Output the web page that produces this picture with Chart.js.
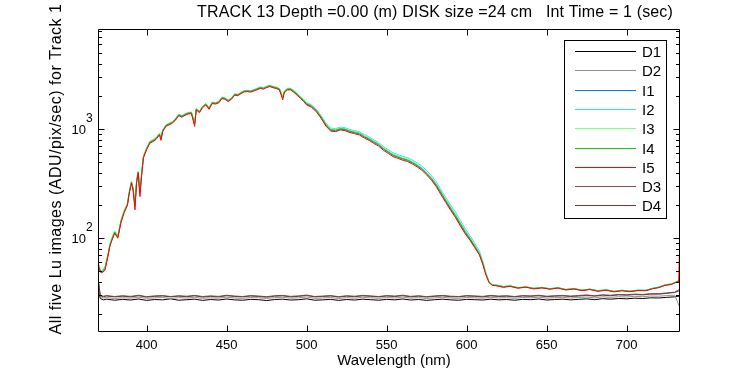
<!DOCTYPE html>
<html>
<head>
<meta charset="utf-8">
<title>TRACK 13 Lu spectra</title>
<script src="https://cdn.jsdelivr.net/npm/chart.js@4.4.1/dist/chart.umd.min.js"></script>
<style>
  html, body { margin: 0; padding: 0; background: #fff; }
  #wrap { width: 750px; height: 375px; }
</style>
</head>
<body>
<div id="wrap"><canvas id="spectra" width="750" height="375"></canvas></div>
<script>
// wavelengths (nm) of the five Lu image curves
const wl = [
  370, 371, 372, 374, 376, 377, 378, 380, 382, 384,
  386, 388, 389, 390.5, 391.5, 392.7, 393.7, 394.7, 395.8, 396.9,
  398, 400, 402, 404, 406, 408, 409, 410, 412, 414,
  416, 418, 420, 422, 424, 426, 428, 430, 431, 433,
  435, 437, 439, 441, 443, 445, 447, 449, 451, 453,
  455, 457, 459, 461, 463, 465, 467, 469, 471, 473,
  475, 477, 479, 481, 483, 485, 486, 488, 490, 492,
  494, 496, 498, 500, 503, 506, 509, 512, 515, 518,
  521, 524, 527, 530, 533, 536, 539, 542, 545, 548,
  551, 554, 557, 560, 563, 566, 569, 572, 575, 578,
  581, 584, 587, 590, 593, 596, 599, 602, 605, 608,
  610, 612, 614, 616, 619, 623, 627, 632, 637, 642,
  647, 652, 657, 662, 667, 672, 677, 682, 687, 692,
  697, 702, 707, 712, 716, 720, 724, 728, 731, 732.5,
  733
];

const i1 = [
  56, 50, 49, 53, 72, 86, 95, 113, 103, 143,
  176, 205, 255, 326, 285, 200, 328, 402, 262, 390,
  555, 660, 755, 782, 822, 898, 830, 962, 1075, 1110,
  1148, 1228, 1348, 1310, 1358, 1400, 1410, 1120, 1520, 1442,
  1600, 1692, 1560, 1745, 1722, 1765, 1935, 1905, 1820, 1905,
  2075, 2060, 2148, 2228, 2240, 2220, 2270, 2330, 2400, 2365,
  2440, 2490, 2432, 2395, 2325, 1950, 2190, 2330, 2320, 2210,
  2080, 1950, 1830, 1700, 1618, 1478, 1285, 1092, 980, 968,
  1002, 990, 950, 928, 905, 850, 808, 758, 716, 656,
  615, 574, 553, 533, 517, 492, 463, 431, 390, 349,
  305, 257, 218, 185, 159, 134, 113, 98, 83.5, 71,
  59, 47, 39.5, 37.3, 36.8, 35.8, 36.4, 35, 35.7, 34.5,
  35.2, 34.3, 35, 33.7, 34.4, 33.2, 34, 32.8, 33.5, 32.4,
  33.2, 32.5, 33.3, 33.1, 34.6, 35.4, 37.2, 37.9, 39.6, 40.5,
  42
];

const i2 = [
  57, 51, 50, 54, 73, 87, 97, 115, 105, 146,
  178, 207, 258, 330, 290, 205, 332, 408, 268, 396,
  563, 670, 768, 795, 835, 912, 845, 978, 1090, 1128,
  1165, 1245, 1368, 1330, 1380, 1420, 1432, 1140, 1545, 1465,
  1625, 1718, 1585, 1772, 1750, 1792, 1965, 1935, 1848, 1935,
  2105, 2090, 2180, 2260, 2272, 2252, 2302, 2362, 2432, 2398,
  2470, 2520, 2465, 2430, 2365, 1990, 2235, 2375, 2372, 2265,
  2135, 2005, 1885, 1755, 1672, 1530, 1335, 1140, 1025, 1012,
  1045, 1032, 992, 970, 948, 892, 850, 798, 755, 692,
  650, 607, 585, 565, 548, 522, 492, 459, 417, 374,
  328, 278, 236, 201, 173, 146, 123, 106, 90, 76,
  62, 48.5, 40, 37.8, 37, 36.2, 36.6, 35.3, 35.9, 34.8,
  35.4, 34.6, 35.2, 34, 34.6, 33.5, 34.2, 33, 33.7, 32.7,
  33.4, 32.8, 33.5, 33.4, 34.8, 35.7, 37.5, 38.2, 40, 41,
  43
];

const i3 = [
  58, 52, 50, 55, 74, 89, 99, 117, 107, 148,
  181, 210, 262, 335, 295, 210, 338, 414, 272, 402,
  570, 678, 777, 803, 843, 920, 852, 985, 1098, 1135,
  1172, 1252, 1375, 1335, 1385, 1425, 1435, 1150, 1548, 1468,
  1628, 1720, 1590, 1775, 1752, 1795, 1968, 1938, 1852, 1938,
  2108, 2092, 2182, 2262, 2275, 2255, 2305, 2365, 2435, 2400,
  2472, 2522, 2466, 2428, 2362, 1985, 2228, 2365, 2360, 2250,
  2120, 1990, 1868, 1738, 1655, 1512, 1318, 1122, 1005, 995,
  1028, 1015, 975, 952, 930, 875, 832, 780, 738, 676,
  634, 592, 570, 550, 533, 507, 478, 445, 403, 361,
  316, 268, 227, 193, 166, 140, 118, 102, 87, 73,
  60, 47.5, 39.7, 37.5, 37.2, 36, 36.8, 35.1, 35.8, 34.9,
  35.5, 34.4, 35.3, 33.9, 34.7, 33.4, 34.1, 33.1, 33.6, 32.6,
  33.3, 32.7, 33.4, 33.3, 34.7, 35.6, 37.3, 38.1, 39.8, 40.8,
  42.5
];

const i4 = [
  57, 50, 49, 53, 72, 86, 96, 114, 103, 144,
  177, 206, 256, 328, 286, 196, 330, 405, 258, 392,
  560, 668, 765, 790, 830, 905, 825, 972, 1085, 1120,
  1158, 1238, 1360, 1320, 1370, 1410, 1420, 1110, 1532, 1452,
  1612, 1705, 1565, 1758, 1735, 1778, 1950, 1920, 1832, 1920,
  2090, 2072, 2162, 2244, 2255, 2236, 2286, 2346, 2416, 2380,
  2455, 2505, 2448, 2410, 2340, 1940, 2205, 2345, 2340, 2230,
  2100, 1968, 1846, 1716, 1634, 1492, 1298, 1104, 990, 978,
  1012, 1000, 960, 938, 915, 860, 818, 767, 725, 664,
  622, 580, 559, 539, 523, 497, 468, 436, 395, 354,
  310, 262, 222, 189, 162, 137, 116, 100, 85, 72,
  59.5, 47, 39.4, 37.2, 37, 35.9, 36.5, 35.2, 35.6, 34.6,
  35.3, 34.2, 35.1, 33.8, 34.5, 33.3, 34.1, 32.9, 33.6, 32.5,
  33.1, 32.6, 33.2, 33.2, 34.5, 35.5, 37.1, 38, 39.7, 40.6,
  42
];

const i5 = [
  55, 49, 48, 51, 70, 84, 93, 111, 100, 140,
  172, 200, 250, 320, 277, 182, 320, 395, 241, 380,
  545, 650, 745, 770, 810, 885, 790, 950, 1060, 1095,
  1130, 1210, 1330, 1290, 1340, 1380, 1390, 1060, 1500, 1420,
  1580, 1670, 1520, 1720, 1700, 1740, 1910, 1880, 1790, 1880,
  2050, 2030, 2120, 2200, 2210, 2190, 2240, 2300, 2370, 2330,
  2410, 2460, 2400, 2360, 2290, 1860, 2150, 2300, 2290, 2180,
  2050, 1920, 1800, 1670, 1590, 1450, 1260, 1070, 960, 950,
  985, 970, 930, 910, 885, 830, 790, 740, 700, 640,
  600, 560, 540, 520, 505, 480, 452, 420, 380, 340,
  297, 250, 212, 180, 155, 130, 110, 96, 82, 70,
  58, 46, 39, 37, 36.5, 35.4, 36.2, 34.8, 35.6, 34.3,
  35.0, 34.1, 34.9, 33.5, 34.2, 33.1, 33.8, 32.6, 33.3, 32.2,
  33.0, 32.3, 33.1, 33.0, 34.4, 35.2, 37.0, 37.6, 39.5, 40,
  80
];

// wavelengths (nm) of the four dark curves
const dWl = [
  370, 371, 373, 375, 380, 385, 390, 395, 400, 405,
  410, 415, 420, 425, 430, 435, 440, 445, 450, 455,
  460, 465, 470, 475, 480, 485, 490, 495, 500, 505,
  510, 515, 520, 525, 530, 535, 540, 545, 550, 555,
  560, 565, 570, 575, 580, 585, 590, 595, 600, 605,
  610, 615, 620, 625, 630, 635, 640, 645, 650, 655,
  660, 665, 670, 675, 680, 685, 690, 695, 700, 705,
  710, 715, 720, 725, 730, 733
];

const d1 = [
  33, 28, 27.2, 27.6, 27.0, 27.5, 27.1, 27.7, 26.9, 27.4,
  27.2, 27.8, 27.0, 27.3, 27.6, 26.9, 27.4, 27.1, 27.7, 27.2,
  27.0, 27.5, 27.3, 26.8, 27.4, 27.6, 27.1, 27.3, 27.8, 27.0,
  27.2, 27.5, 26.9, 27.4, 27.1, 27.6, 27.3, 27.0, 27.5, 27.2,
  27.7, 27.1, 27.4, 26.9, 27.3, 27.6, 27.2, 27.0, 27.5, 27.3,
  27.1, 27.6, 27.2, 27.4, 27.0, 27.5, 27.3, 27.7, 27.1, 27.4,
  27.6, 27.2, 27.5, 27.8, 27.3, 27.9, 27.6, 28.0, 27.8, 28.2,
  28.0, 28.4, 28.3, 28.7, 29.0, 29.5
];

const d2 = [
  36, 29, 28.3, 28.6, 28.0, 28.5, 28.2, 28.8, 28.1, 28.4,
  28.6, 28.0, 28.5, 28.3, 28.7, 28.1, 28.4, 28.2, 28.8, 28.3,
  28.1, 28.6, 28.4, 28.0, 28.5, 28.7, 28.2, 28.4, 28.9, 28.1,
  28.3, 28.6, 28.0, 28.5, 28.2, 28.7, 28.4, 28.1, 28.6, 28.3,
  28.8, 28.2, 28.5, 28.0, 28.4, 28.7, 28.3, 28.1, 28.6, 28.4,
  28.2, 28.7, 28.3, 28.5, 28.1, 28.6, 28.4, 28.8, 28.2, 28.5,
  28.7, 28.3, 28.6, 28.9, 28.4, 29.0, 28.7, 29.1, 28.9, 29.3,
  29.1, 29.5, 29.4, 29.8, 30.0, 23.5
];

const d3 = [
  40, 30, 29.4, 29.8, 29.2, 29.7, 29.3, 30.0, 29.1, 29.6,
  29.8, 29.2, 29.7, 29.4, 29.9, 29.2, 29.6, 29.3, 30.0, 29.5,
  29.2, 29.8, 29.5, 29.1, 29.7, 29.9, 29.3, 29.6, 30.1, 29.2,
  29.5, 29.8, 29.1, 29.7, 29.4, 29.9, 29.6, 29.2, 29.8, 29.5,
  30.0, 29.3, 29.7, 29.1, 29.6, 29.9, 29.4, 29.2, 29.8, 29.6,
  29.3, 29.9, 29.5, 29.7, 29.2, 29.8, 29.6, 30.0, 29.4, 29.7,
  29.9, 29.5, 29.8, 30.2, 29.7, 30.3, 30.0, 30.5, 30.3, 30.7,
  30.5, 31.0, 31.0, 31.5, 32.0, 34
];

const d4 = [
  38, 29.6, 29.1, 29.5, 29.0, 29.4, 29.0, 29.7, 28.9, 29.3,
  29.5, 29.0, 29.4, 29.1, 29.6, 28.9, 29.3, 29.0, 29.7, 29.2,
  29.0, 29.5, 29.2, 28.8, 29.4, 29.6, 29.0, 29.3, 29.8, 29.0,
  29.2, 29.5, 28.9, 29.4, 29.1, 29.6, 29.3, 29.0, 29.5, 29.2,
  29.7, 29.0, 29.4, 28.9, 29.3, 29.6, 29.1, 29.0, 29.5, 29.3,
  29.0, 29.6, 29.2, 29.4, 29.0, 29.5, 29.3, 29.7, 29.1, 29.4,
  29.6, 29.2, 29.5, 29.9, 29.4, 30.0, 29.7, 30.2, 30.0, 30.4,
  30.2, 30.7, 30.7, 31.2, 31.8, 33
];

// axis ticks
const xTicks = [400, 450, 500, 550, 600, 650, 700];
const yMajor = [100, 1000];
const yMinor = [20, 30, 40, 50, 60, 70, 80, 90,
                200, 300, 400, 500, 600, 700, 800, 900,
                2000, 3000, 4000, 5000, 6000, 7000, 8000];

const seriesNames  = ['D1', 'D2', 'I1', 'I2', 'I3', 'I4', 'I5', 'D3', 'D4'];
const seriesColors = ['#000000', '#909090', '#0078ff', '#30e0ff', '#80ff80',
                      '#20c020', '#ff0000', '#805050', '#703838'];
const seriesX = [dWl, dWl, wl, wl, wl, wl, wl, dWl, dWl];
const seriesY = [d1, d2, i1, i2, i3, i4, i5, d3, d4];

const FONT = '"Liberation Sans", Arial, Helvetica, sans-serif';

function points(xs, ys) {
    return xs.map((x, k) => ({ x: x, y: ys[k] }));
}

const datasets = seriesNames.map((name, k) => ({
    label: name,
    data: points(seriesX[k], seriesY[k]),
    borderColor: seriesColors[k],
    backgroundColor: seriesColors[k],
    borderWidth: 1,
    pointRadius: 0,
    tension: 0,
    fill: false,
    // later series sit on top, as in the original plot
    order: seriesNames.length - k
}));

// axes box, inward ticks, labels and the boxed legend
const matlabFrame = {
    id: 'matlabFrame',
    afterDraw(chart) {
        const ctx = chart.ctx;
        const a = chart.chartArea;
        const xs = chart.scales.x;
        const ys = chart.scales.y;
        const L = Math.round(a.left) + 0.5, R = Math.round(a.right) - 0.5;
        const T = Math.round(a.top) + 0.5, B = Math.round(a.bottom) - 0.5;

        ctx.save();
        ctx.strokeStyle = '#000';
        ctx.lineWidth = 1;
        ctx.beginPath();
        ctx.rect(L, T, R - L, B - T);

        xTicks.forEach(v => {
            const px = Math.round(xs.getPixelForValue(v)) + 0.5;
            ctx.moveTo(px, B); ctx.lineTo(px, B - 6);
            ctx.moveTo(px, T); ctx.lineTo(px, T + 6);
        });
        yMajor.concat(yMinor).forEach(v => {
            const len = yMajor.includes(v) ? 6 : 3.5;
            const py = Math.round(ys.getPixelForValue(v)) + 0.5;
            ctx.moveTo(L, py); ctx.lineTo(L + len, py);
            ctx.moveTo(R, py); ctx.lineTo(R - len, py);
        });
        ctx.stroke();

        ctx.fillStyle = '#000';
        ctx.font = '13px ' + FONT;
        ctx.textAlign = 'center';
        ctx.textBaseline = 'middle';
        xTicks.forEach(v => {
            ctx.fillText(String(v), xs.getPixelForValue(v), 345);
        });

        yMajor.forEach(v => {
            const py = ys.getPixelForValue(v);
            ctx.font = '13px ' + FONT;
            ctx.textAlign = 'right';
            ctx.fillText('10', 86, py + 1);
            ctx.font = '12px ' + FONT;
            ctx.textAlign = 'left';
            ctx.fillText(String(Math.round(Math.log10(v))), 86, py - 11);
        });

        ctx.font = '16px ' + FONT;
        ctx.textAlign = 'left';
        ctx.letterSpacing = '0.15px';
        ctx.fillText('TRACK 13 Depth =0.00 (m) DISK size =24 cm   Int Time = 1 (sec)', 197, 13);

        ctx.save();
        ctx.translate(57, 169);
        ctx.rotate(-Math.PI / 2);
        ctx.textAlign = 'center';
        ctx.letterSpacing = '0.5px';
        ctx.fillText('All five Lu images (ADU/pix/sec) for Track 1', 0, 0);
        ctx.restore();

        ctx.letterSpacing = '0px';
        ctx.font = '15px ' + FONT;
        ctx.textAlign = 'center';
        ctx.fillText('Wavelength (nm)', 394, 361);

        // legend
        const bx = 564.5, by = 40.5, bw = 102, bh = 178;
        ctx.fillStyle = '#fff';
        ctx.fillRect(bx, by, bw, bh);
        ctx.strokeStyle = '#000';
        ctx.strokeRect(bx, by, bw, bh);
        ctx.font = '15px ' + FONT;
        ctx.textAlign = 'left';
        seriesNames.forEach((name, k) => {
            const yy = Math.round(51 + k * 19.3) + 0.5;
            ctx.strokeStyle = seriesColors[k];
            ctx.beginPath();
            ctx.moveTo(575, yy);
            ctx.lineTo(636, yy);
            ctx.stroke();
            ctx.fillStyle = '#000';
            ctx.fillText(name, 642, yy + 1);
        });
        ctx.restore();
    }
};

new Chart(document.getElementById('spectra').getContext('2d'), {
    type: 'line',
    data: { datasets: datasets },
    options: {
        responsive: false,
        animation: false,
        devicePixelRatio: 1,
        parsing: false,
        normalized: true,
        layout: { padding: { left: 98, right: 70, top: 29, bottom: 43 } },
        scales: {
            x: { type: 'linear', min: 369.6, max: 733.3, display: false },
            y: { type: 'logarithmic', min: 13.8, max: 8300, display: false }
        },
        plugins: {
            legend: { display: false },
            title: { display: false },
            tooltip: { enabled: false }
        }
    },
    plugins: [matlabFrame]
});
</script>
</body>
</html>
